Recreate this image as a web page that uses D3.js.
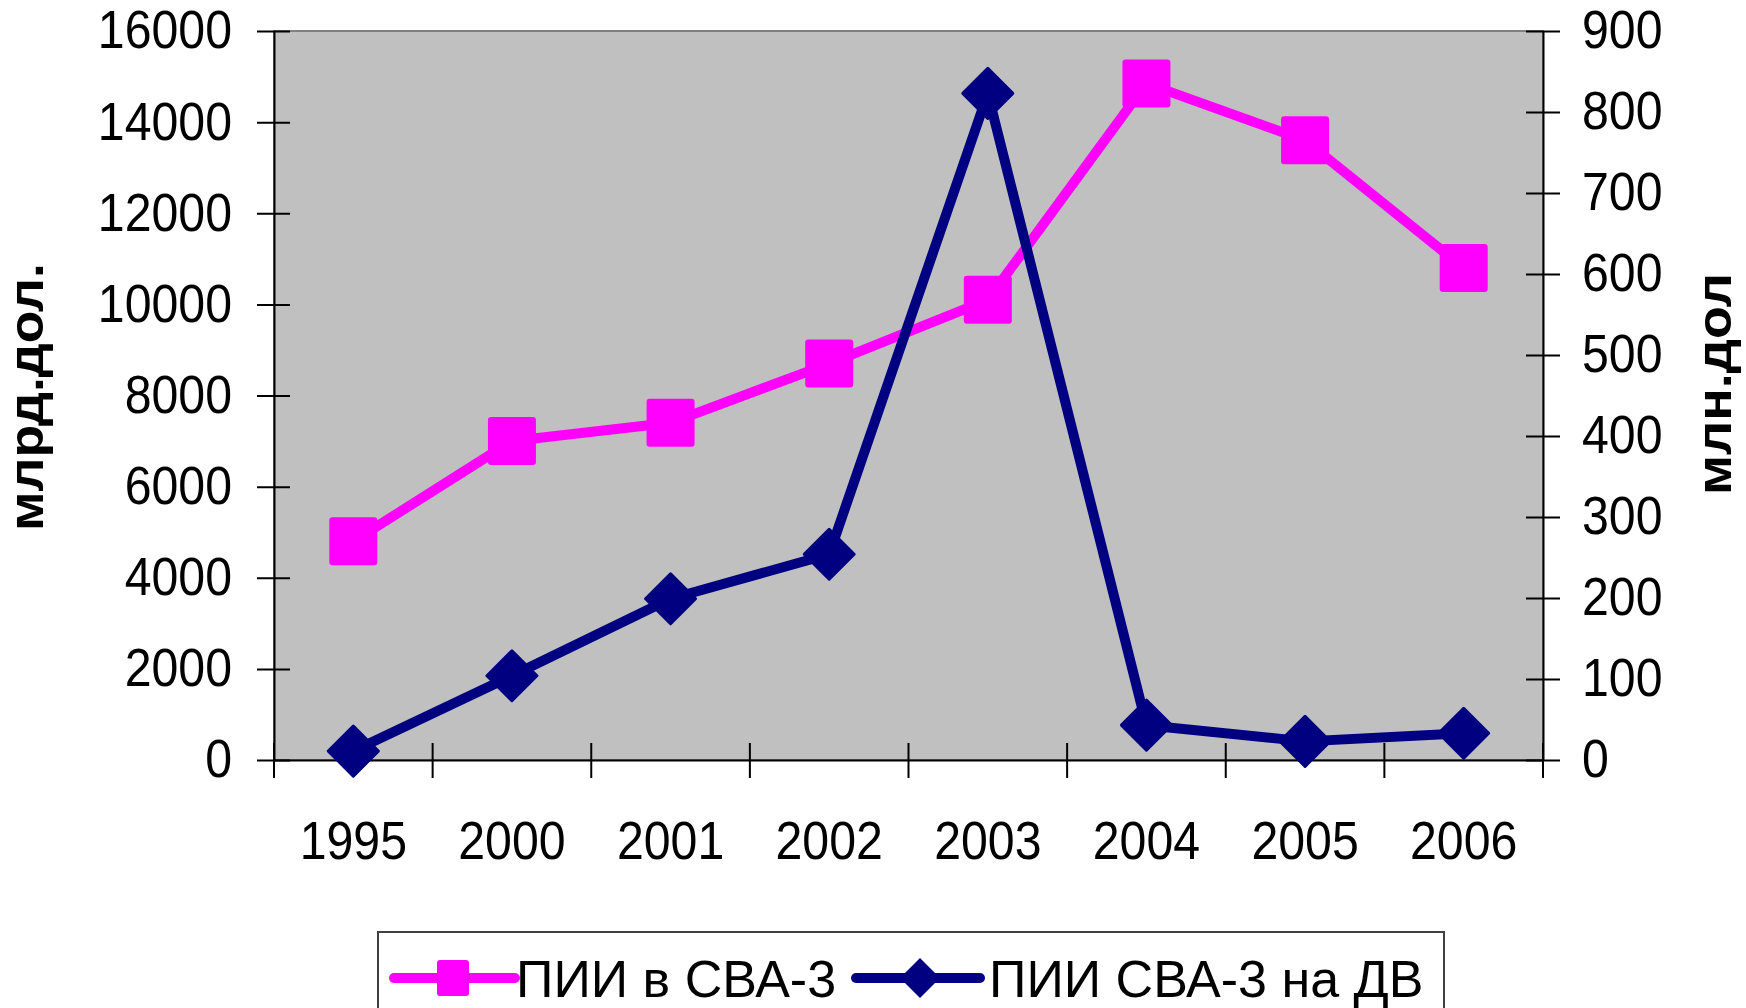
<!DOCTYPE html>
<meta charset="utf-8">
<style>
    body {
        margin: 0;
        background: #fff;
    }
    text {
        font-family: "Liberation Sans", Arial, sans-serif;
        fill: #000;
    }
    .axis path, .axis line {
        stroke: #000;
        stroke-width: 2;
    }
</style>
<body>
<svg id="chart" width="1746" height="1008"></svg>
<script src="https://d3js.org/d3.v7.min.js"></script>
<script>
    var years = ["1995", "2000", "2001", "2002", "2003", "2004", "2005", "2006"];
    var fdiIn = [4800, 7000, 7400, 8700, 10100, 14850, 13600, 10800];      // млрд.дол.
    var fdiFarEast = [11, 104, 199, 254, 823, 43, 23, 33];                 // млн.дол.
    var leftTicks = [0, 2000, 4000, 6000, 8000, 10000, 12000, 14000, 16000];
    var rightTicks = [0, 100, 200, 300, 400, 500, 600, 700, 800, 900];
    var seriesNames = ["ПИИ в СВА-3", "ПИИ СВА-3 на ДВ"];
    var leftTitle = "млрд.дол.";
    var rightTitle = "млн.дол";

    var pink = "#ff00ff", navy = "#000080";

    var plot = {left: 274, right: 1543, top: 31, bottom: 760};

    var svg = d3.select("#chart");

    var x = d3.scaleBand()
            .domain(years)
            .range([plot.left, plot.right]);

    var yL = d3.scaleLinear()
            .domain([0, 16000])
            .range([plot.bottom, plot.top]);

    var yR = d3.scaleLinear()
            .domain([0, 900])
            .range([plot.bottom, plot.top]);

    function cx(d) { return x(d) + x.bandwidth() / 2; }

    // plot background
    svg.append("rect")
            .attr("x", plot.left)
            .attr("y", plot.top)
            .attr("width", plot.right - plot.left)
            .attr("height", plot.bottom - plot.top)
            .attr("fill", "#c0c0c0")
            .attr("stroke", "#808080")
            .attr("stroke-width", 2);

    // condense tick labels a bit, like the original
    function squeeze(sel) {
        sel.each(function() {
            var w = this.getComputedTextLength();
            d3.select(this)
                .attr("textLength", w * 0.91)
                .attr("lengthAdjust", "spacingAndGlyphs");
        });
    }

    var gL = svg.append("g")
            .attr("class", "axis")
            .attr("transform", "translate(" + plot.left + ",0)")
            .call(d3.axisLeft(yL).tickValues(leftTicks).tickFormat(d3.format("d"))
                .tickSizeInner(17).tickSizeOuter(0).tickPadding(25));
    gL.selectAll(".tick line").attr("x2", -17).attr("x1", 16);

    var gR = svg.append("g")
            .attr("class", "axis")
            .attr("transform", "translate(" + plot.right + ",0)")
            .call(d3.axisRight(yR).tickValues(rightTicks).tickFormat(d3.format("d"))
                .tickSizeInner(17).tickSizeOuter(0).tickPadding(22));
    gR.selectAll(".tick line").attr("x2", 17).attr("x1", -17);

    var gB = svg.append("g")
            .attr("class", "axis")
            .attr("transform", "translate(0," + plot.bottom + ")")
            .call(d3.axisBottom(x).tickSize(0).tickSizeOuter(0).tickPadding(61));
    gB.selectAll(".tick line").remove();

    // category boundary ticks
    var bounds = years.map(function(d) { return x(d); }).concat([plot.right]);
    gB.selectAll("line.bound")
            .data(bounds)
            .enter().append("line")
            .attr("class", "bound")
            .attr("x1", function(d) { return d; })
            .attr("x2", function(d) { return d; })
            .attr("y1", -17)
            .attr("y2", 18)
            .attr("stroke", "#000")
            .attr("stroke-width", 2);

    svg.selectAll(".axis text")
            .attr("font-size", 53)
            .style("font-family", "'Liberation Sans', Arial, sans-serif")
            .call(squeeze);

    // axis titles
    svg.append("text")
            .attr("transform", "translate(43,397) rotate(-90)")
            .attr("text-anchor", "middle")
            .attr("font-size", 48)
            .attr("font-weight", "bold")
            .attr("textLength", 268)
            .attr("lengthAdjust", "spacingAndGlyphs")
            .text(leftTitle);

    svg.append("text")
            .attr("transform", "translate(1731,384) rotate(-90)")
            .attr("text-anchor", "middle")
            .attr("font-size", 48)
            .attr("font-weight", "bold")
            .attr("textLength", 222)
            .attr("lengthAdjust", "spacingAndGlyphs")
            .text(rightTitle);

    // lines
    var linePink = d3.line()
            .x(function(d, i) { return cx(years[i]); })
            .y(function(d) { return yL(d); });

    var lineNavy = d3.line()
            .x(function(d, i) { return cx(years[i]); })
            .y(function(d) { return yR(d); });

    svg.append("path")
            .datum(fdiIn)
            .attr("d", linePink)
            .attr("fill", "none")
            .attr("stroke", pink)
            .attr("stroke-width", 10)
            .attr("stroke-linejoin", "round");

    svg.append("path")
            .datum(fdiFarEast)
            .attr("d", lineNavy)
            .attr("fill", "none")
            .attr("stroke", navy)
            .attr("stroke-width", 10)
            .attr("stroke-linejoin", "round");

    var sq = 48, dm = 25;

    svg.selectAll("rect.sq")
            .data(fdiIn)
            .enter().append("rect")
            .attr("class", "sq")
            .attr("x", function(d, i) { return cx(years[i]) - sq / 2; })
            .attr("y", function(d) { return yL(d) - sq / 2; })
            .attr("width", sq)
            .attr("height", sq)
            .attr("rx", 3)
            .attr("fill", pink);

    function diamond(px, py, r) {
        return "M" + px + "," + (py - r) + "L" + (px + r) + "," + py +
               "L" + px + "," + (py + r) + "L" + (px - r) + "," + py + "Z";
    }

    svg.selectAll("path.dm")
            .data(fdiFarEast)
            .enter().append("path")
            .attr("class", "dm")
            .attr("d", function(d, i) { return diamond(cx(years[i]), yR(d), dm); })
            .attr("fill", navy)
            .attr("stroke", navy)
            .attr("stroke-width", 3)
            .attr("stroke-linejoin", "round");

    // legend
    var lg = svg.append("g");
    lg.append("rect")
            .attr("x", 378)
            .attr("y", 932)
            .attr("width", 1066)
            .attr("height", 100)
            .attr("fill", "#fff")
            .attr("stroke", "#404040")
            .attr("stroke-width", 2);

    var ly = 978;
    lg.append("line")
            .attr("x1", 394).attr("x2", 515)
            .attr("y1", ly).attr("y2", ly)
            .attr("stroke", pink)
            .attr("stroke-width", 10)
            .attr("stroke-linecap", "round");
    lg.append("rect")
            .attr("x", 437).attr("y", ly - 18)
            .attr("width", 32).attr("height", 36)
            .attr("rx", 3)
            .attr("fill", pink);
    lg.append("text")
            .attr("x", 516).attr("y", 997)
            .attr("font-size", 52)
            .text(seriesNames[0]);

    lg.append("line")
            .attr("x1", 856).attr("x2", 980)
            .attr("y1", ly).attr("y2", ly)
            .attr("stroke", navy)
            .attr("stroke-width", 10)
            .attr("stroke-linecap", "round");
    lg.append("path")
            .attr("d", diamond(920, ly, 20))
            .attr("fill", navy);
    lg.append("text")
            .attr("x", 989).attr("y", 997)
            .attr("font-size", 52)
            .text(seriesNames[1]);
</script>
</body>
